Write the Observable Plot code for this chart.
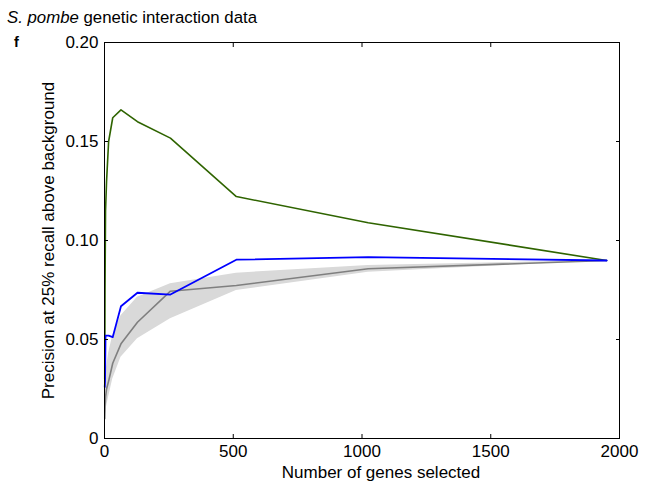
<!DOCTYPE html>
<html>
<head>
<meta charset="utf-8">
<script src="https://cdn.jsdelivr.net/npm/d3@7"></script>
<script src="https://cdn.jsdelivr.net/npm/@observablehq/plot@0.6"></script>
<style>
  body { margin: 0; background: #fff; }
  #wrap { position: relative; width: 654px; height: 488px; font-family: "Liberation Sans", Arial, sans-serif; }
  #title { position: absolute; left: 7px; top: 8px; font-size: 16.8px; line-height: 1.149; color: #000; white-space: nowrap; }
  #panel { position: absolute; left: 14px; top: 34px; font-size: 14.5px; line-height: 1.149; font-weight: bold; color: #000; }
  #chart { position: absolute; left: 0; top: 0; }
</style>
</head>
<body>
<div id="wrap">
  <div id="chart"></div>
  <div id="title"><i>S. pombe</i> genetic interaction data</div>
  <div id="panel">f</div>
</div>
<script>
const genes = [1, 2, 4, 8, 16, 32, 64, 128, 256, 512, 1024, 1950];
const method = [0.03, 0.075, 0.115, 0.130, 0.150, 0.162, 0.166, 0.160, 0.1517, 0.1222, 0.109, 0.0899];
const other = [0.026, 0.029, 0.052, 0.052, 0.052, 0.0512, 0.0668, 0.0736, 0.0727, 0.0903, 0.0916, 0.0899];
const randomMean = [0.010, 0.016, 0.021, 0.025, 0.029, 0.038, 0.0478, 0.0587, 0.0744, 0.0773, 0.0857, 0.0899];
const randomLo = [0.004, 0.008, 0.012, 0.016, 0.021, 0.030, 0.041, 0.0504, 0.0605, 0.0747, 0.0840, 0.0899];
const randomHi = [0.016, 0.024, 0.030, 0.036, 0.043, 0.052, 0.062, 0.0714, 0.0781, 0.0835, 0.0874, 0.0899];
const xTicks = [0, 500, 1000, 1500, 2000];
const yTicks = [0, 0.05, 0.10, 0.15, 0.20];
const yTickLabels = ["0", "0.05", "0.10", "0.15", "0.20"];
const xTitle = "Number of genes selected";
const yTitle = "Precision at 25% recall above background";

const rows = genes.map((g, i) => ({
  g, method: method[i], other: other[i], mean: randomMean[i], lo: randomLo[i], hi: randomHi[i]
}));

const chart = Plot.plot({
  width: 654,
  height: 488,
  marginLeft: 104,
  marginRight: 35,
  marginTop: 42,
  marginBottom: 50,
  style: { fontFamily: "Liberation Sans, Arial, sans-serif", fontSize: "17px", color: "#000", background: "#fff" },
  x: { domain: [0, 2000] },
  y: { domain: [0, 0.2] },
  marks: [
    Plot.areaY(rows, { x: "g", y1: "lo", y2: "hi", fill: "#d9d9d9", curve: "linear" }),
    Plot.line(rows, { x: "g", y: "method", stroke: "#2f6400", strokeWidth: 1.6 }),
    Plot.line(rows, { x: "g", y: "mean", stroke: "#7f7f7f", strokeWidth: 1.6 }),
    Plot.line(rows, { x: "g", y: "other", stroke: "#0000ff", strokeWidth: 1.8 }),
    Plot.frame({ stroke: "#000", strokeWidth: 1 }),
    Plot.axisX(xTicks, { anchor: "bottom", tickSize: -4, tickPadding: 10, fontSize: 17, tickFormat: d => String(d), label: null }),
    Plot.text([xTitle], { text: d => d, frameAnchor: "bottom", dx: 19, dy: 39, fontSize: 17, fill: "#000" }),
    Plot.axisX(xTicks, { anchor: "top", tickSize: -4, tickFormat: () => "", label: null }),
    Plot.axisY(yTicks, { anchor: "left", tickSize: -4, tickPadding: 10, fontSize: 17, tickFormat: (d, i) => yTickLabels[i], label: null }),
    Plot.axisY({ anchor: "left", ticks: [], label: yTitle, labelAnchor: "center", labelArrow: "none", labelOffset: 63, fontSize: 17 }),
    Plot.axisY(yTicks, { anchor: "right", tickSize: -4, tickFormat: () => "", label: null })
  ]
});
document.getElementById("chart").appendChild(chart);
</script>
</body>
</html>
